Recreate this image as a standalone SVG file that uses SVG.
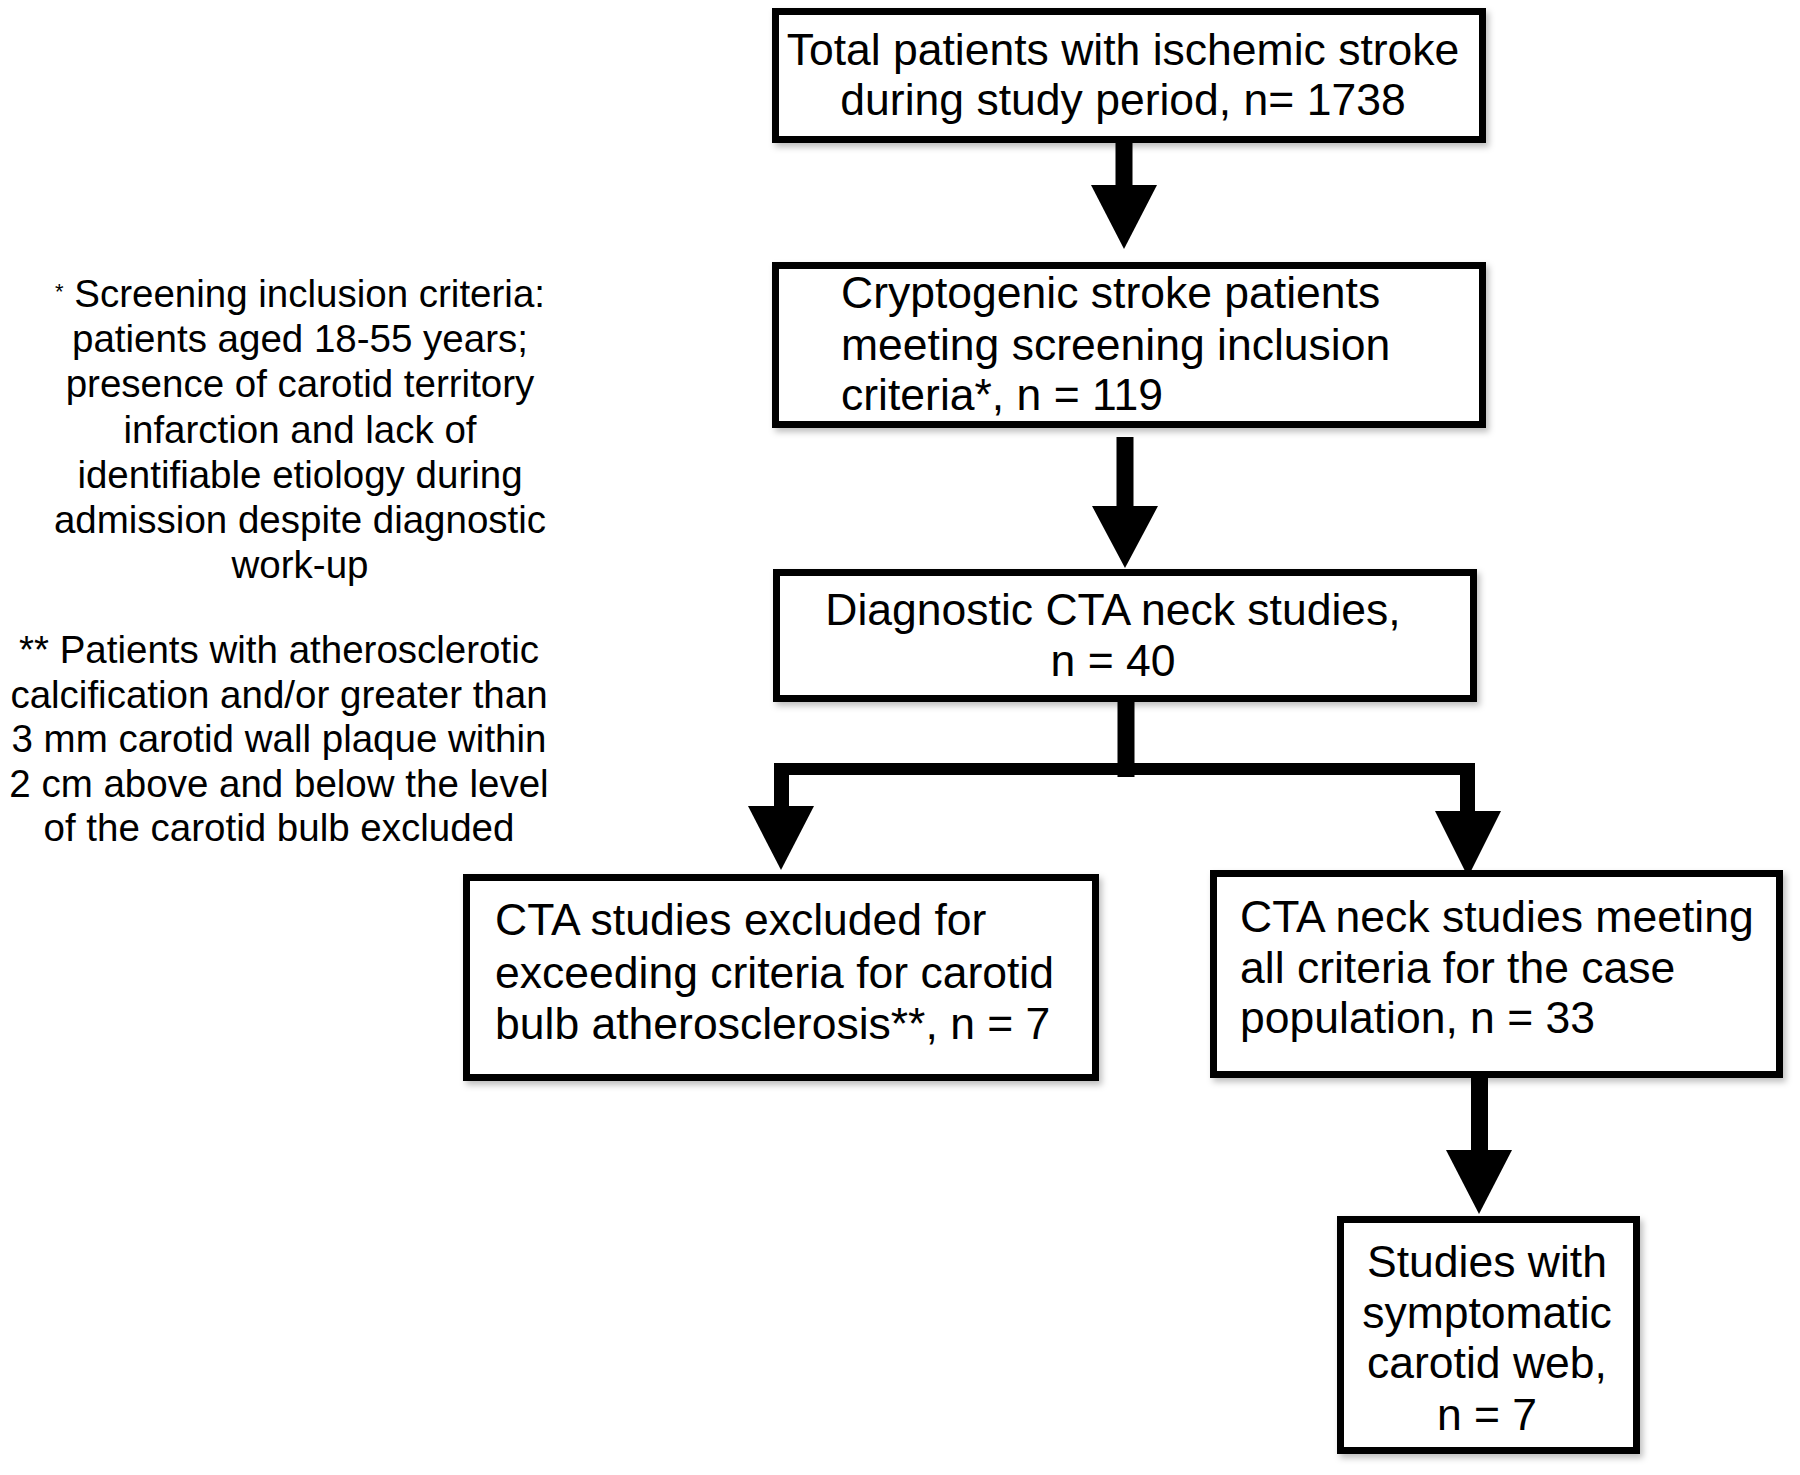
<svg xmlns="http://www.w3.org/2000/svg" width="1800" height="1475" viewBox="0 0 1800 1475">
<style>
.box{fill:#fff;stroke:#000;stroke-width:7;filter:url(#sh)}
.t{font-family:"Liberation Sans",Arial,sans-serif;font-size:44.5px;fill:#000}
.c{text-anchor:middle}
.n{font-family:"Liberation Sans",Arial,sans-serif;font-size:38.5px;fill:#000;text-anchor:middle}
.a{fill:#000}
</style>
<defs>
<filter id="sh" x="-5%" y="-5%" width="112%" height="120%">
<feDropShadow dx="3" dy="4" stdDeviation="3" flood-color="#000" flood-opacity="0.25"/>
</filter>
</defs>
<rect width="1800" height="1475" fill="#fff"/>
<g id="connectors">
<rect class="a" x="1115.5" y="141" width="17" height="46"/>
<polygon class="a" points="1091,185 1157,185 1124,249"/>
<rect class="a" x="1116.5" y="437" width="17" height="70"/>
<polygon class="a" points="1092,506 1158,506 1125,568"/>
<rect class="a" x="1117.5" y="700" width="17" height="77"/>
<rect class="a" x="774" y="763" width="701" height="12"/>
<rect class="a" x="774" y="763" width="15" height="45"/>
<polygon class="a" points="748,806 814,806 781,870"/>
<rect class="a" x="1460" y="763" width="15" height="50"/>
<polygon class="a" points="1435,811 1501,811 1468,877"/>
<rect class="a" x="1471" y="1076" width="17" height="76"/>
<polygon class="a" points="1446,1150 1512,1150 1479,1214"/>
</g>
<g id="node1">
<rect class="box" x="775.5" y="11.5" width="707" height="128"/>
<text class="t c" x="1123" y="65">Total patients with ischemic stroke</text>
<text class="t c" x="1123" y="115">during study period, n= 1738</text>
</g>
<g id="node2">
<rect class="box" x="775.5" y="265.5" width="707" height="159"/>
<text class="t" x="841" y="308">Cryptogenic stroke patients</text>
<text class="t" x="841" y="360">meeting screening inclusion</text>
<text class="t" x="841" y="410">criteria*, n = 119</text>
</g>
<g id="node3">
<rect class="box" x="776.5" y="572.5" width="697" height="126"/>
<text class="t c" x="1113" y="625">Diagnostic CTA neck studies,</text>
<text class="t c" x="1113" y="676">n = 40</text>
</g>
<g id="node4">
<rect class="box" x="466.5" y="877.5" width="629" height="200"/>
<text class="t" x="495" y="935">CTA studies excluded for</text>
<text class="t" x="495" y="988">exceeding criteria for carotid</text>
<text class="t" x="495" y="1039">bulb atherosclerosis**, n = 7</text>
</g>
<g id="node5">
<rect class="box" x="1213.5" y="873.5" width="566" height="201"/>
<text class="t" x="1240" y="932">CTA neck studies meeting</text>
<text class="t" x="1240" y="983">all criteria for the case</text>
<text class="t" x="1240" y="1033">population, n = 33</text>
</g>
<g id="node6">
<rect class="box" x="1340.5" y="1219.5" width="296" height="231"/>
<text class="t c" x="1487" y="1277">Studies with</text>
<text class="t c" x="1487" y="1328">symptomatic</text>
<text class="t c" x="1487" y="1378">carotid web,</text>
<text class="t c" x="1487" y="1430">n = 7</text>
</g>
<g id="note1">
<text class="n" x="300" y="307"><tspan font-size="22" dy="-8">*</tspan><tspan dy="8"> Screening inclusion criteria:</tspan></text>
<text class="n" x="300" y="352">patients aged 18-55 years;</text>
<text class="n" x="300" y="397">presence of carotid territory</text>
<text class="n" x="300" y="443">infarction and lack of</text>
<text class="n" x="300" y="488">identifiable etiology during</text>
<text class="n" x="300" y="533">admission despite diagnostic</text>
<text class="n" x="300" y="578">work-up</text>
</g>
<g id="note2">
<text class="n" x="279" y="663">** Patients with atherosclerotic</text>
<text class="n" x="279" y="707.5">calcification and/or greater than</text>
<text class="n" x="279" y="752">3 mm carotid wall plaque within</text>
<text class="n" x="279" y="796.5">2 cm above and below the level</text>
<text class="n" x="279" y="841">of the carotid bulb excluded</text>
</g>
</svg>
